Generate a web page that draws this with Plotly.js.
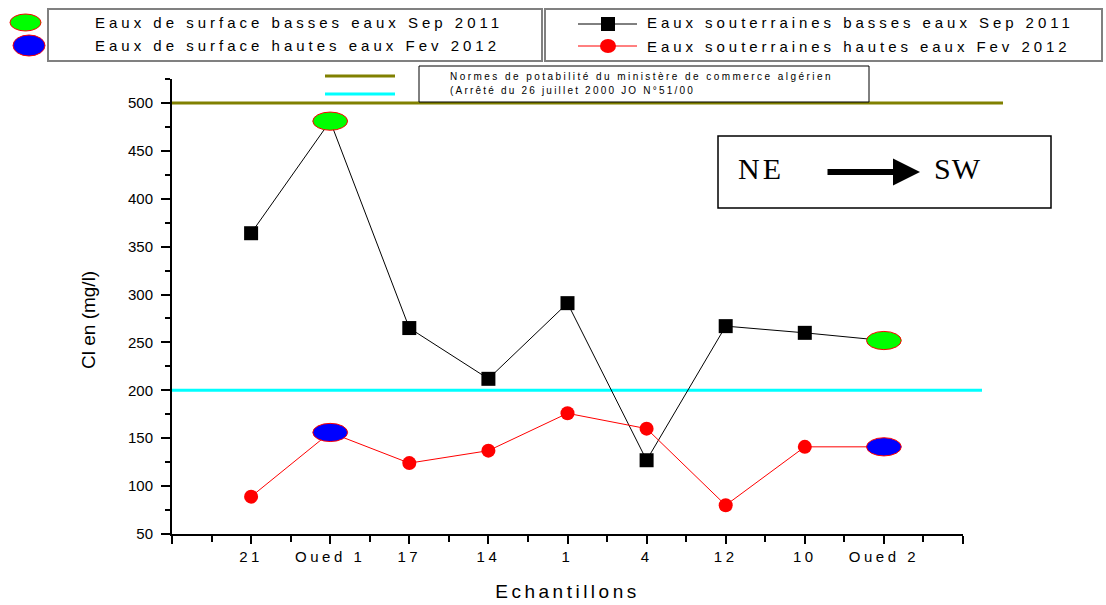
<!DOCTYPE html>
<html>
<head>
<meta charset="utf-8">
<script src="https://cdn.plot.ly/plotly-3.0.1.min.js"></script>
<style>
  html, body { margin: 0; padding: 0; background: #fff; }
  #chart { width: 1106px; height: 605px; }
</style>
</head>
<body>
<div id="chart"></div>
<script>
// ---- Data ----
const categories = ['21', 'Oued 1', '17', '14', '1', '4', '12', '10', 'Oued 2'];
const gwSep2011 = [364, null, 265, 212, 291, 127, 267, 260, null];   // Eaux souterraines basses eaux Sep 2011
const swSep2011 = [null, 481, null, null, null, null, null, null, 252]; // Eaux de surface basses eaux Sep 2011
const gwFev2012 = [89, null, 124, 137, 176, 160, 80, 141, null];     // Eaux souterraines hautes eaux Fev 2012
const swFev2012 = [null, 156, null, null, null, null, null, null, 141]; // Eaux de surface hautes eaux Fev 2012
const normValues = [500, 200];
const yTicks = [50, 100, 150, 200, 250, 300, 350, 400, 450, 500];

const xPos = categories.map((c, i) => i + 1);
const sepAll = gwSep2011.map((v, i) => v !== null ? v : swSep2011[i]);
const fevAll = gwFev2012.map((v, i) => v !== null ? v : swFev2012[i]);

const FONT = '"Liberation Sans", Arial, sans-serif';
const SERIF = '"Liberation Serif", "Times New Roman", serif';

// plot area in pixels
const L = 172, R = 963, T = 79, B = 534;
const px = p => (p - L) / (R - L);
const py = p => (B - p) / (B - T);

const traces = [
  { x: xPos, y: sepAll, mode: 'lines', line: { color: '#000', width: 1 }, hoverinfo: 'skip', showlegend: false },
  { x: xPos, y: fevAll, mode: 'lines', line: { color: '#ff0000', width: 1 }, hoverinfo: 'skip', showlegend: false },
  { x: xPos, y: gwSep2011, mode: 'markers', name: 'Eaux souterraines basses eaux Sep 2011',
    marker: { symbol: 'square', size: 14, color: '#000' }, showlegend: false },
  { x: xPos, y: gwFev2012, mode: 'markers', name: 'Eaux souterraines hautes eaux Fev 2012',
    marker: { symbol: 'circle', size: 14, color: '#ff0000' }, showlegend: false },
  { x: xPos, y: swSep2011, mode: 'markers', name: 'Eaux de surface basses eaux Sep 2011',
    marker: { symbol: 'circle', size: 14, color: '#00ff00' }, showlegend: false },
  { x: xPos, y: swFev2012, mode: 'markers', name: 'Eaux de surface hautes eaux Fev 2012',
    marker: { symbol: 'circle', size: 14, color: '#0000ff' }, showlegend: false }
];

const shapes = [];
// norm lines
const normColors = ['#808000', '#00ffff'];
const normEnds = [1003, 982];
normValues.forEach((v, i) => {
  shapes.push({ type: 'line', xref: 'paper', yref: 'y', x0: 0, x1: px(normEnds[i]), y0: v, y1: v,
    line: { color: normColors[i], width: 3 }, layer: 'below' });
});
// surface ellipses (data coords, built from the arrays)
const hw = 0.22, hh = 9.5;
function addEllipses(arr, fill) {
  arr.forEach((v, i) => {
    if (v === null) return;
    shapes.push({ type: 'circle', xref: 'x', yref: 'y', x0: xPos[i] - hw, x1: xPos[i] + hw, y0: v - hh, y1: v + hh,
      fillcolor: fill, line: { color: '#ff0000', width: 1 }, layer: 'above' });
  });
}
addEllipses(swSep2011, '#00ff00');
addEllipses(swFev2012, '#0000ff');

function rectPx(x0, y0, x1, y1, opts) {
  return Object.assign({ type: 'rect', xref: 'paper', yref: 'paper', x0: px(x0), x1: px(x1), y0: py(y0), y1: py(y1) }, opts);
}
function linePx(x0, y0, x1, y1, opts) {
  return Object.assign({ type: 'line', xref: 'paper', yref: 'paper', x0: px(x0), x1: px(x1), y0: py(y0), y1: py(y1) }, opts);
}
function ellPx(x0, y0, x1, y1, opts) {
  return Object.assign({ type: 'circle', xref: 'paper', yref: 'paper', x0: px(x0), x1: px(x1), y0: py(y0), y1: py(y1) }, opts);
}
// legend boxes
shapes.push(rectPx(48, 9, 542, 61, { line: { color: '#808080', width: 2 } }));
shapes.push(rectPx(545, 9, 1102, 61, { line: { color: '#808080', width: 2 } }));
shapes.push(ellPx(10, 14, 41, 31, { fillcolor: '#00ff00', line: { color: '#ff0000', width: 1 } }));
shapes.push(ellPx(13, 35, 45, 56, { fillcolor: '#0000ff', line: { color: '#ff0000', width: 1 } }));
shapes.push(linePx(578, 24, 637, 24, { line: { color: '#000', width: 1 } }));
shapes.push(rectPx(601, 17, 615, 31, { fillcolor: '#000', line: { color: '#000', width: 0 } }));
shapes.push(linePx(578, 46, 637, 46, { line: { color: '#ff0000', width: 1 } }));
shapes.push(ellPx(600, 39, 616, 53, { fillcolor: '#ff0000', line: { color: '#ff0000', width: 0 } }));
// norms legend
shapes.push(rectPx(419, 66, 869, 102, { line: { color: '#000', width: 1 }, fillcolor: '#fff' }));
shapes.push(linePx(325, 76, 395, 76, { line: { color: '#808000', width: 3 } }));
shapes.push(linePx(325, 94, 395, 94, { line: { color: '#00ffff', width: 3 } }));
// NE -> SW box
shapes.push(rectPx(718, 136, 1051, 208, { line: { color: '#000', width: 1.5 } }));

const leftTargets = [95, 95, 647, 647, 450, 450, 738, 934];
const spacing = ['4px', '4px', '3.95px', '3.95px', '2.45px', '2.2px', '3px', '1px'];

const annotations = [
  { text: 'Eaux de surface basses eaux Sep 2011', x: px(95), y: py(22) },
  { text: 'Eaux de surface hautes eaux Fev 2012', x: px(95), y: py(45) },
  { text: 'Eaux souterraines basses eaux Sep 2011', x: px(647), y: py(22) },
  { text: 'Eaux souterraines hautes eaux Fev 2012', x: px(647), y: py(46) }
].map(a => Object.assign(a, { xref: 'paper', yref: 'paper', xanchor: 'left', yanchor: 'middle', showarrow: false,
  font: { family: FONT, size: 15, color: '#000' } }));

[
  { text: 'Normes de potabilité du ministère de commerce algérien', x: px(450), y: py(76) },
  { text: '(Arrêté du 26 juillet 2000 JO N°51/00', x: px(450), y: py(90) }
].forEach(a => annotations.push(Object.assign(a, { xref: 'paper', yref: 'paper', xanchor: 'left', yanchor: 'middle',
  showarrow: false, font: { family: FONT, size: 10, color: '#000' } })));

annotations.push(
  { text: 'NE', x: px(758), y: py(168), xref: 'paper', yref: 'paper', xanchor: 'center', yanchor: 'middle', showarrow: false,
    font: { family: SERIF, size: 30, color: '#000' } },
  { text: 'SW', x: px(955), y: py(168), xref: 'paper', yref: 'paper', xanchor: 'center', yanchor: 'middle', showarrow: false,
    font: { family: SERIF, size: 30, color: '#000' } },
  { text: '', x: px(920), y: py(172), ax: px(826), ay: py(172), xref: 'paper', yref: 'paper', axref: 'paper', ayref: 'paper',
    showarrow: true, arrowhead: 2, arrowwidth: 6, arrowsize: 0.9, arrowcolor: '#000' },
  { text: 'Cl en (mg/l)', x: px(88), y: py(320), xref: 'paper', yref: 'paper', xanchor: 'center', yanchor: 'middle',
    textangle: -90, showarrow: false, font: { family: FONT, size: 19, color: '#000' } }
);

const layout = {
  width: 1106, height: 605,
  margin: { l: L, r: 1106 - R, t: T, b: 605 - B, pad: 0 },
  paper_bgcolor: '#fff', plot_bgcolor: '#fff',
  showlegend: false,
  font: { family: FONT, color: '#000' },
  xaxis: {
    range: [0, 10], showgrid: false, zeroline: false,
    showline: true, linecolor: '#000', linewidth: 2,
    tickmode: 'array', tickvals: [0].concat(xPos, [10]), ticktext: [''].concat(categories, ['']),
    ticks: 'outside', ticklen: 8, tickwidth: 2, tickcolor: '#000',
    tickfont: { family: FONT, size: 15, color: '#000' },
    minor: { tickmode: 'linear', tick0: 0, dtick: 0.5, ticks: 'outside', ticklen: 6, tickwidth: 2, tickcolor: '#000' },
    title: { text: 'Echantillons', font: { family: FONT, size: 19, color: '#000' }, standoff: 21 }
  },
  yaxis: {
    range: [50, 525], showgrid: false, zeroline: false,
    showline: true, linecolor: '#000', linewidth: 2,
    tickmode: 'array', tickvals: yTicks,
    ticks: 'outside', ticklen: 9, tickwidth: 2, tickcolor: '#000', ticklabelstandoff: 5,
    tickfont: { family: FONT, size: 15, color: '#000' },
    minor: { tickmode: 'linear', tick0: 50, dtick: 25, ticks: 'outside', ticklen: 5, tickwidth: 2, tickcolor: '#000' }
  },
  shapes: shapes,
  annotations: annotations
};

Plotly.newPlot('chart', traces, layout, { displayModeBar: false, staticPlot: true }).then(() => {
  const ann = document.querySelectorAll('.annotation-text');
  ann.forEach((el, i) => {
    if (!spacing[i]) return;
    el.style.letterSpacing = spacing[i];
    const r = el.getBoundingClientRect();
    const dx = leftTargets[i] - r.left;
    const prev = el.getAttribute('transform') || '';
    el.setAttribute('transform', prev + ' translate(' + dx + ',0)');
  });
  document.querySelectorAll('.xtick text').forEach(el => el.style.letterSpacing = '3.5px');
  const xt = document.querySelector('.xtitle'); if (xt) xt.style.letterSpacing = '3.5px';
});
</script>
</body>
</html>
